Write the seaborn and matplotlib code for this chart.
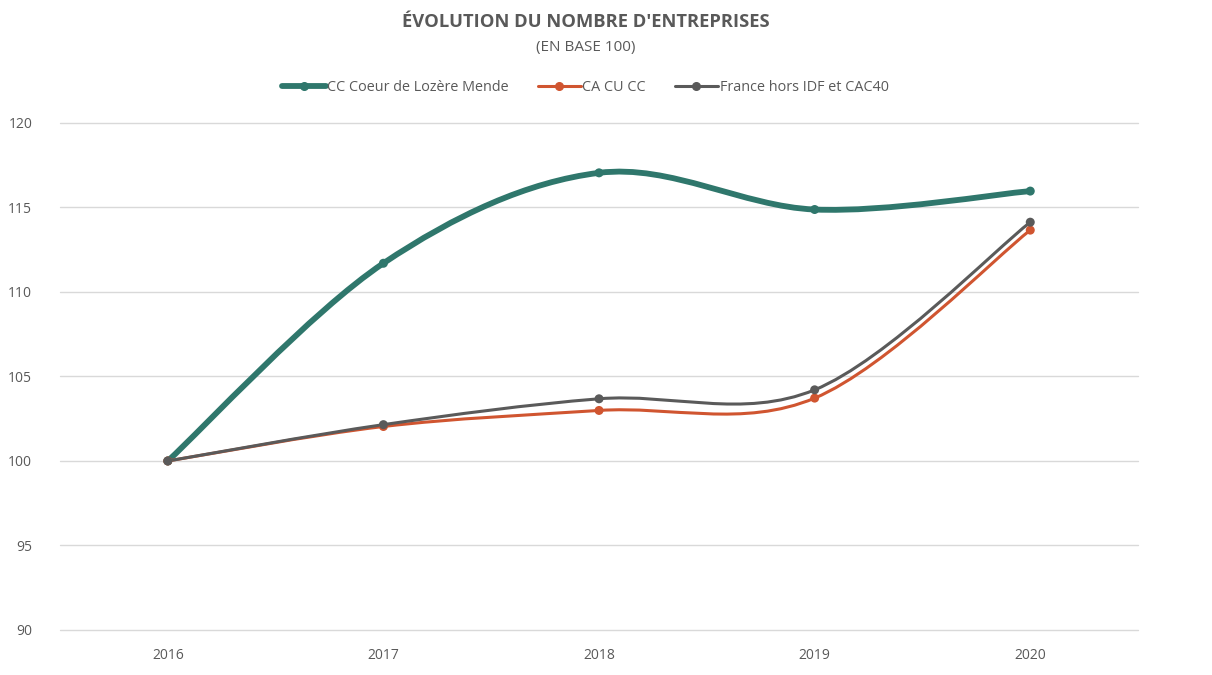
"""
Évolution du nombre d'entreprises (base 100) - courbes lissées façon Excel
"""
import numpy as np
import pandas as pd
import matplotlib
matplotlib.use("Agg")
import matplotlib.pyplot as plt
from matplotlib.path import Path
from matplotlib.patches import PathPatch
from matplotlib.lines import Line2D
import seaborn as sns

sns.set_style("white")
plt.rcParams["font.family"] = ["Open Sans", "DejaVu Sans"]

YEARS = ["2016", "2017", "2018", "2019", "2020"]
MENDE = [100, 111.70, 117.05, 114.88, 115.97]
CA_CU_CC = [100, 102.04, 102.99, 103.72, 113.66]
FRANCE = [100, 102.15, 103.68, 104.21, 114.13]

SERIES = ["CC Coeur de Lozère Mende", "CA CU CC", "France hors IDF et CAC40"]
COLORS = {
    "CC Coeur de Lozère Mende": "#2F776C",
    "CA CU CC": "#D05530",
    "France hors IDF et CAC40": "#5A5A5A",
}
WIDTHS = {
    "CC Coeur de Lozère Mende": 4.2,
    "CA CU CC": 2.2,
    "France hors IDF et CAC40": 2.2,
}
TXT = "#595959"
GRID = "#D9D9D9"


def smooth_path(xs, ys):
    """Bezier path through points, Excel-like (Catmull-Rom, tension 1/6)"""
    pts = np.column_stack([xs, ys]).astype(float)
    ext = np.vstack([pts[:1], pts, pts[-1:]])
    verts = [pts[0]]
    codes = [Path.MOVETO]
    for i in range(len(pts) - 1):
        p0, p1, p2, p3 = ext[i], ext[i + 1], ext[i + 2], ext[i + 3]
        c1 = p1 + (p2 - p0) / 6
        c2 = p2 - (p3 - p1) / 6
        verts += [c1, c2, p2]
        codes += [Path.CURVE4] * 3
    return Path(verts, codes)


df = pd.DataFrame({
    "x": list(range(len(YEARS))) * 3,
    "valeur": MENDE + CA_CU_CC + FRANCE,
    "serie": [s for s in SERIES for _ in YEARS],
})

fig = plt.figure(figsize=(12.12, 6.75), dpi=100)
ax = fig.add_axes([0.0495, 0.0667, 0.8895, 0.7511])

# Smoothed lines
for s in SERIES:
    sub = df[df["serie"] == s]
    patch = PathPatch(
        smooth_path(sub["x"].values, sub["valeur"].values),
        facecolor="none",
        edgecolor=COLORS[s],
        lw=WIDTHS[s],
        capstyle="round",
        joinstyle="round",
        zorder=3,
    )
    ax.add_patch(patch)

# Markers
sns.scatterplot(
    data=df, x="x", y="valeur", hue="serie", palette=COLORS,
    s=42, linewidth=0, legend=False, ax=ax, zorder=4,
)

ax.set_xlim(-0.5, len(YEARS) - 0.5)
ax.set_ylim(90, 120)
ax.set_xticks(range(len(YEARS)))
ax.set_xticklabels(YEARS)
ax.set_yticks(np.arange(90, 121, 5))
ax.tick_params(axis="both", length=0, labelsize=10, labelcolor=TXT)
ax.tick_params(axis="x", pad=13)
ax.tick_params(axis="y", pad=20)
ax.set_xlabel("")
ax.set_ylabel("")
ax.grid(axis="y", color=GRID, lw=1)
for gl in ax.get_ygridlines():
    gl.set_clip_on(False)
ax.set_axisbelow(True)
for sp in ax.spines.values():
    sp.set_visible(False)

fig.text(0.483, 0.968, "ÉVOLUTION DU NOMBRE D'ENTREPRISES", ha="center", va="center",
         fontsize=13.2, fontweight="bold", color=TXT)
fig.text(0.483, 0.930, "(EN BASE 100)", ha="center", va="center", fontsize=11, color=TXT)

handles = [
    Line2D([0], [0], color=COLORS[s], lw=WIDTHS[s], marker="o", markersize=5.5)
    for s in SERIES
]
fig.legend(
    handles, SERIES, loc="center", bbox_to_anchor=(0.483, 0.871), ncol=3,
    frameon=False, fontsize=10.4, labelcolor=TXT, handlelength=3.0,
    handletextpad=0.1, columnspacing=2.0,
)

fig.savefig("out.png", dpi=100)
